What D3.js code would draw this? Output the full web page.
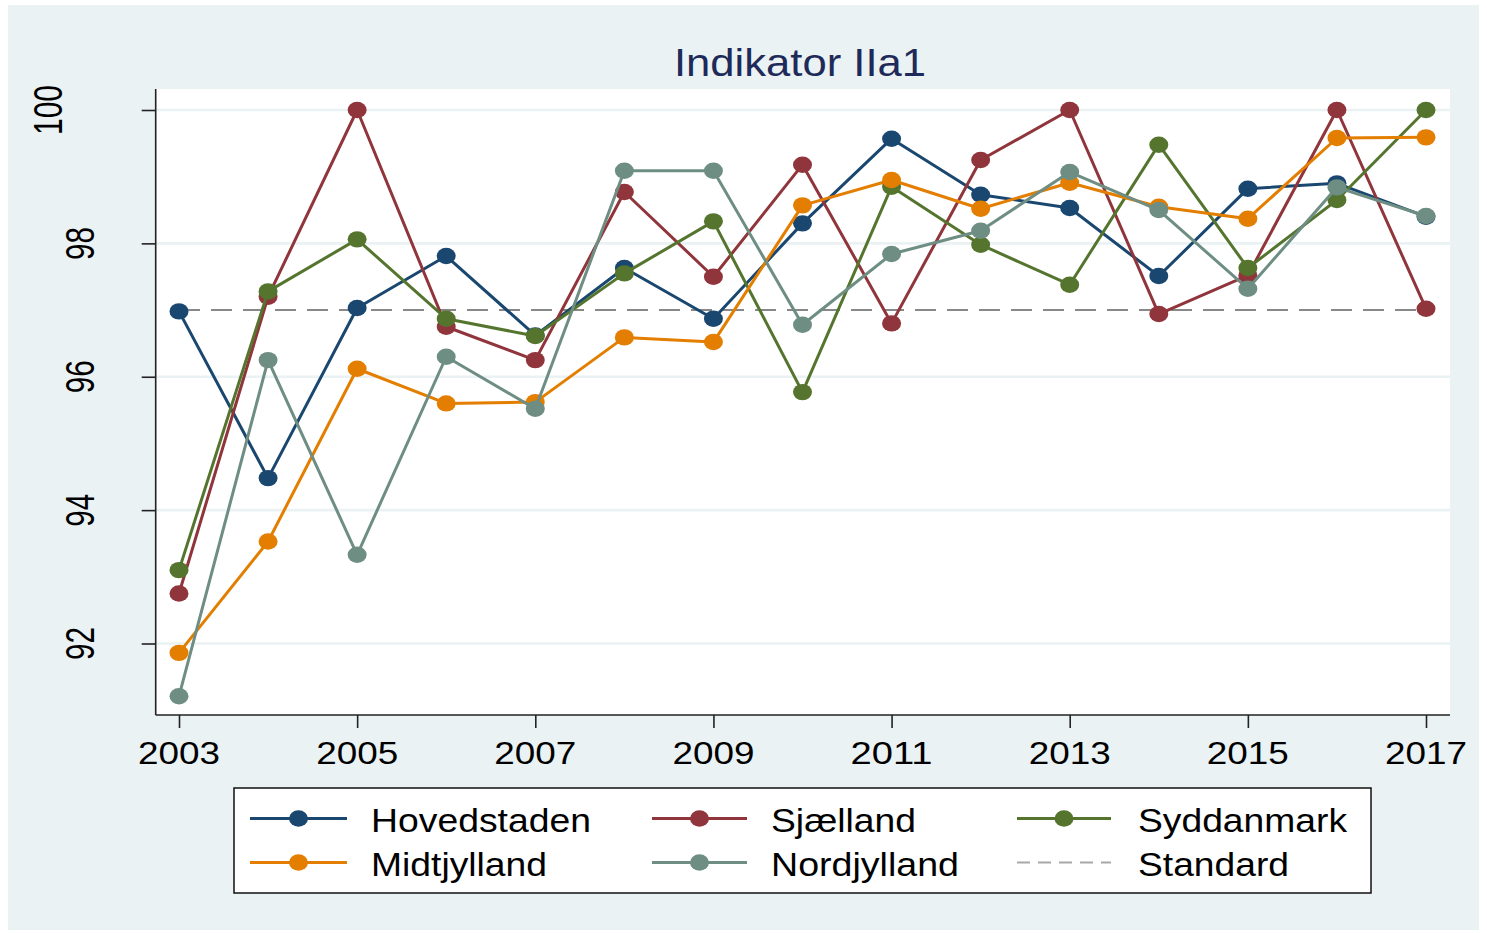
<!DOCTYPE html>
<html>
<head>
<meta charset="utf-8">
<script src="https://cdn.jsdelivr.net/npm/d3@7"></script>
<style>
  html, body { margin: 0; padding: 0; background: #ffffff; }
  svg { display: block; }
  text { font-family: "Liberation Sans", Arial, sans-serif; }
</style>
</head>
<body>
<svg id="chart" width="1487" height="933"></svg>
<script>
// ---- data ----
const years = [2003, 2004, 2005, 2006, 2007, 2008, 2009, 2010, 2011, 2012, 2013, 2014, 2015, 2016, 2017];
const hovedstaden = [96.98, 94.48, 97.03, 97.81, 96.62, 97.63, 96.87, 98.30, 99.57, 98.73, 98.53, 97.51, 98.82, 98.90, 98.40];
const sjaelland   = [92.75, 97.20, 100.0, 96.75, 96.25, 98.77, 97.50, 99.18, 96.80, 99.25, 100.0, 96.94, 97.52, 100.0, 97.02];
const syddanmark  = [93.10, 97.28, 98.06, 96.87, 96.61, 97.55, 98.33, 95.77, 98.85, 97.98, 97.38, 99.48, 97.63, 98.65, 100.0];
const midtjylland = [91.86, 93.53, 96.12, 95.60, 95.62, 96.59, 96.52, 98.57, 98.95, 98.52, 98.91, 98.55, 98.37, 99.58, 99.59];
const nordjylland = [91.21, 96.25, 93.33, 96.30, 95.52, 99.09, 99.09, 96.78, 97.84, 98.19, 99.07, 98.50, 97.32, 98.84, 98.41];
const standardValue = 97;
const seriesNames = ["Hovedstaden", "Sjælland", "Syddanmark", "Midtjylland", "Nordjylland"];
const seriesColors = ["#1a476f", "#90353b", "#55752f", "#e37e00", "#6e8e84"];
const yTicks = [92, 94, 96, 98, 100];
const xTicks = [2003, 2005, 2007, 2009, 2011, 2013, 2015, 2017];
const titleText = "Indikator IIa1";
const standardLabel = "Standard";

const seriesValues = [hovedstaden, sjaelland, syddanmark, midtjylland, nordjylland];

// ---- layout ----
const svg = d3.select("#chart");
const plot = { left: 155.7, right: 1450, top: 89, bottom: 715 };
const x = d3.scaleLinear().domain([2003, 2017]).range([179, 1426]);
const y = d3.scaleLinear().domain([92, 100]).range([643.5, 110]);

const bg = "#eaf2f3";
svg.append("rect").attr("x", 8).attr("y", 5).attr("width", 1471).attr("height", 925).attr("fill", bg);
svg.append("rect").attr("x", plot.left).attr("y", plot.top)
  .attr("width", plot.right - plot.left).attr("height", plot.bottom - plot.top).attr("fill", "#ffffff");

// gridlines
svg.append("g").selectAll("line").data(yTicks).join("line")
  .attr("x1", plot.left).attr("x2", plot.right)
  .attr("y1", d => y(d)).attr("y2", d => y(d))
  .attr("stroke", bg).attr("stroke-width", 2.6);

// title
svg.append("text").attr("x", 800).attr("y", 76).attr("text-anchor", "middle")
  .attr("font-size", 38).attr("fill", "#1e2b5a")
  .attr("textLength", 252).attr("lengthAdjust", "spacingAndGlyphs")
  .text(titleText);

// y axis
const yAxis = d3.axisLeft(y).tickValues(yTicks).tickSize(14).tickFormat("");
const gy = svg.append("g").attr("transform", `translate(${plot.left},0)`).call(yAxis);
gy.select(".domain").attr("d", `M0,${plot.top}V${plot.bottom}`).attr("stroke", "#222").attr("stroke-width", 1.6);
gy.selectAll(".tick line").attr("stroke", "#222").attr("stroke-width", 1.6);
svg.append("g").selectAll("text").data(yTicks).join("text")
  .attr("transform", d => `translate(${d === 100 ? 62 : 94},${y(d)}) rotate(-90)`)
  .attr("text-anchor", "middle")
  .attr("font-size", 40).attr("fill", "#000")
  .attr("textLength", d => String(d).length === 3 ? 50 : 33)
  .attr("lengthAdjust", "spacingAndGlyphs")
  .text(d => d);

// x axis
const xAxis = d3.axisBottom(x).tickValues(xTicks).tickSize(13).tickFormat("");
const gx = svg.append("g").attr("transform", `translate(0,${plot.bottom})`).call(xAxis);
gx.select(".domain").attr("d", `M${plot.left},0H${plot.right}`).attr("stroke", "#222").attr("stroke-width", 1.6);
gx.selectAll(".tick line").attr("stroke", "#222").attr("stroke-width", 1.6);
svg.append("g").selectAll("text").data(xTicks).join("text")
  .attr("x", d => x(d)).attr("y", 764).attr("text-anchor", "middle")
  .attr("font-size", 31).attr("fill", "#000")
  .attr("textLength", 82).attr("lengthAdjust", "spacingAndGlyphs")
  .text(d => d);

// standard line
svg.append("line")
  .attr("x1", x(years[0])).attr("x2", x(years[years.length - 1]))
  .attr("y1", y(standardValue)).attr("y2", y(standardValue))
  .attr("stroke", "#888").attr("stroke-width", 2).attr("stroke-dasharray", "21,11");

// series
const line = d3.line().x((d, i) => x(years[i])).y(d => y(d));
seriesValues.forEach((vals, si) => {
  const g = svg.append("g");
  g.append("path").datum(vals).attr("d", line)
    .attr("fill", "none").attr("stroke", seriesColors[si]).attr("stroke-width", 3)
    .attr("stroke-linejoin", "round");
  g.selectAll("ellipse").data(vals).join("ellipse")
    .attr("cx", (d, i) => x(years[i])).attr("cy", d => y(d))
    .attr("rx", 9.5).attr("ry", 8.2).attr("fill", seriesColors[si]);
});

// legend
const leg = svg.append("g");
leg.append("rect").attr("x", 234).attr("y", 788).attr("width", 1137).attr("height", 105)
  .attr("fill", "#fff").attr("stroke", "#111").attr("stroke-width", 1.5);
const legItems = [
  { name: seriesNames[0], color: seriesColors[0], col: 0, row: 0, w: 220 },
  { name: seriesNames[1], color: seriesColors[1], col: 1, row: 0, w: 145 },
  { name: seriesNames[2], color: seriesColors[2], col: 2, row: 0, w: 209 },
  { name: seriesNames[3], color: seriesColors[3], col: 0, row: 1, w: 176 },
  { name: seriesNames[4], color: seriesColors[4], col: 1, row: 1, w: 188 },
  { name: standardLabel, color: "#a8a8a8", col: 2, row: 1, w: 151, dashed: true }
];
const colLineX = [[250, 347], [652, 747], [1017, 1111]];
const colTextX = [371, 771, 1138];
const rowLineY = [818.5, 862.5];
const rowBase = [832, 876];
legItems.forEach(it => {
  const [x1, x2] = colLineX[it.col];
  const ly = rowLineY[it.row];
  if (it.dashed) {
    leg.append("line").attr("x1", x1).attr("x2", x2).attr("y1", ly).attr("y2", ly)
      .attr("stroke", it.color).attr("stroke-width", 2).attr("stroke-dasharray", "13,8");
  } else {
    leg.append("line").attr("x1", x1).attr("x2", x2).attr("y1", ly).attr("y2", ly)
      .attr("stroke", it.color).attr("stroke-width", 3);
    leg.append("ellipse").attr("cx", (x1 + x2) / 2).attr("cy", ly).attr("rx", 9.5).attr("ry", 8.2)
      .attr("fill", it.color);
  }
  leg.append("text").attr("x", colTextX[it.col]).attr("y", rowBase[it.row])
    .attr("font-size", 34).attr("fill", "#000")
    .attr("textLength", it.w).attr("lengthAdjust", "spacingAndGlyphs")
    .text(it.name);
});
</script>
</body>
</html>
